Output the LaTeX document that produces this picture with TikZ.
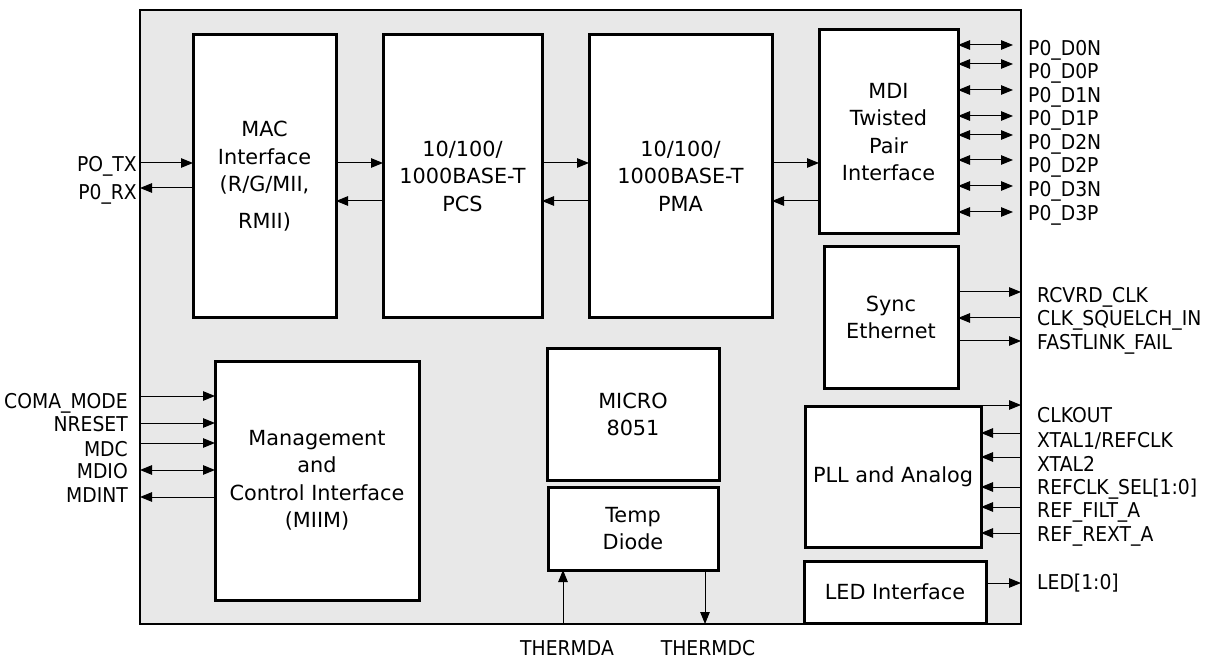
\documentclass[tikz,border=0pt]{standalone}
\usepackage{fontspec}
\setmainfont{DejaVu Sans}
\newfontfamily\lblfont[FakeStretch=0.92]{DejaVu Sans}
\usetikzlibrary{arrows.meta}
\definecolor{chipgray}{HTML}{E8E8E8}
\begin{document}
\begin{tikzpicture}[x=1pt,y=-1pt,
  chipbox/.style={draw, line width=2pt, fill=chipgray, inner sep=0pt, outer sep=0pt},
  blk/.style={draw, line width=3pt, fill=white, inner sep=0pt, outer sep=0pt, align=center,
    font=\fontsize{20.8}{27.5}\selectfont},
  arr/.style={line width=1pt, -{Triangle[length=12pt,width=9.5pt]}},
  rarr/.style={line width=1pt, {Triangle[length=12pt,width=9.5pt]}-},
  barr/.style={line width=1pt, {Triangle[length=12pt,width=9.5pt]}-{Triangle[length=12pt,width=9.5pt]}},
  lbl/.style={inner sep=0pt, font=\lblfont\fontsize{20.4}{24}\selectfont}
]
\useasboundingbox (0,0) rectangle (1213,660);
\fill[white] (0,0) rectangle (1213,660);

% chip outline
\node[chipbox, minimum width=881pt, minimum height=614pt] (chip) at (580.5,317) {};

% blocks
\node[blk, minimum width=143pt, minimum height=283pt] (mac) at (264.5,176) {MAC\\Interface\\(R/G/MII,\\[9pt]RMII)};
\node[blk, minimum width=159pt, minimum height=283pt] (pcs) at (462.5,176) {10/100/\\1000BASE-T\\PCS};
\node[blk, minimum width=183pt, minimum height=283pt] (pma) at (680.5,176) {10/100/\\1000BASE-T\\PMA};
\node[blk, minimum width=139pt, minimum height=204pt] (mdi) at (888.5,132) {MDI\\Twisted\\Pair\\Interface};
\node[blk, minimum width=134pt, minimum height=142pt] (sync) at (891,317.5) {Sync\\Ethernet};
\node[blk, minimum width=204pt, minimum height=239pt] (mgmt) at (317,480.5) {Management\\and\\Control Interface\\(MIIM)};
\node[blk, minimum width=172pt, minimum height=132pt] (micro) at (633,414.5) {MICRO\\8051};
\node[blk, minimum width=170pt, minimum height=83pt] (temp) at (633,528.5) {Temp\\Diode};
\node[blk, minimum width=176pt, minimum height=141pt] (pll) at (893,476.5) {PLL and Analog};
\node[blk, minimum width=182pt, minimum height=62pt] (led) at (895,592) {LED Interface};

% datapath connectors
\draw[arr]  (mac.east |- 0,163) -- (pcs.west |- 0,163);
\draw[rarr] (mac.east |- 0,201) -- (pcs.west |- 0,201);
\draw[arr]  (pcs.east |- 0,163) -- (pma.west |- 0,163);
\draw[rarr] (pcs.east |- 0,201) -- (pma.west |- 0,201);
\draw[arr]  (pma.east |- 0,163) -- (mdi.west |- 0,163);
\draw[rarr] (pma.east |- 0,201) -- (mdi.west |- 0,201);

% MAC pins
\draw[arr]  (chip.west |- 0,163) -- (mac.west |- 0,163);
\draw[rarr] (chip.west |- 0,188) -- (mac.west |- 0,188);
\node[lbl, anchor=base east] (ptx) at (137,171.5) {PO\_TX};
\node[lbl, anchor=base east] (prx) at (137,199.5) {P0\_RX};

% management pins
\draw[arr]  (chip.west |- 0,396) -- (mgmt.west |- 0,396);
\draw[arr]  (chip.west |- 0,423) -- (mgmt.west |- 0,423);
\draw[arr]  (chip.west |- 0,443) -- (mgmt.west |- 0,443);
\draw[barr] (chip.west |- 0,470) -- (mgmt.west |- 0,470);
\draw[rarr] (chip.west |- 0,497) -- (mgmt.west |- 0,497);
\node[lbl, anchor=base east] (lcoma) at (128,408) {COMA\_MODE};
\node[lbl, anchor=base east] (lnres) at (128,431.5) {NRESET};
\node[lbl, anchor=base east] (lmdc) at (128,456.5) {MDC};
\node[lbl, anchor=base east] (lmdio) at (128,478.5) {MDIO};
\node[lbl, anchor=base east] (lmdint) at (128,502.5) {MDINT};

% MDI pins
\coordinate (d0n) at (1013,45);
\coordinate (d0p) at (1013,64);
\coordinate (d1n) at (1013,90);
\coordinate (d1p) at (1013,116);
\coordinate (d2n) at (1013,135);
\coordinate (d2p) at (1013,160);
\coordinate (d3n) at (1013,186);
\coordinate (d3p) at (1013,212);
\foreach \c in {d0n,d0p,d1n,d1p,d2n,d2p,d3n,d3p}
  \draw[barr] (mdi.east |- \c) -- (\c);
\node[lbl, anchor=base west] (l0n) at (1028,55.5) {P0\_D0N};
\node[lbl, anchor=base west] (l0p) at (1028,79) {P0\_D0P};
\node[lbl, anchor=base west] (l1n) at (1028,102.5) {P0\_D1N};
\node[lbl, anchor=base west] (l1p) at (1028,126) {P0\_D1P};
\node[lbl, anchor=base west] (l2n) at (1028,149.5) {P0\_D2N};
\node[lbl, anchor=base west] (l2p) at (1028,173) {P0\_D2P};
\node[lbl, anchor=base west] (l3n) at (1028,196.5) {P0\_D3N};
\node[lbl, anchor=base west] (l3p) at (1028,220.5) {P0\_D3P};

% Sync Ethernet pins
\draw[arr]  (sync.east |- 0,292) -- (chip.east |- 0,292);
\draw[rarr] (sync.east |- 0,318) -- (chip.east |- 0,318);
\draw[arr]  (sync.east |- 0,341) -- (chip.east |- 0,341);
\node[lbl, anchor=base west] (lrc) at (1037,302.5) {RCVRD\_CLK};
\node[lbl, anchor=base west] (lsq) at (1037,325.5) {CLK\_SQUELCH\_IN};
\node[lbl, anchor=base west] (lfl) at (1037,349.5) {FASTLINK\_FAIL};

% PLL pins
\draw[arr]  (pll.east |- 0,405) -- (chip.east |- 0,405);
\draw[rarr] (pll.east |- 0,433) -- (chip.east |- 0,433);
\draw[rarr] (pll.east |- 0,457) -- (chip.east |- 0,457);
\draw[rarr] (pll.east |- 0,487) -- (chip.east |- 0,487);
\draw[rarr] (pll.east |- 0,507) -- (chip.east |- 0,507);
\draw[rarr] (pll.east |- 0,533) -- (chip.east |- 0,533);
\node[lbl, anchor=base west] (lck) at (1037,422.5) {CLKOUT};
\node[lbl, anchor=base west] (lx1) at (1037,447.5) {XTAL1/REFCLK};
\node[lbl, anchor=base west] (lx2) at (1037,471.5) {XTAL2};
\node[lbl, anchor=base west] (lrs) at (1037,494.5) {REFCLK\_SEL[1:0]};
\node[lbl, anchor=base west] (lrf) at (1037,517.5) {REF\_FILT\_A};
\node[lbl, anchor=base west] (lrr) at (1037,541.5) {REF\_REXT\_A};

% LED pin
\draw[arr] (led.east |- 0,583) -- (chip.east |- 0,583);
\node[lbl, anchor=base west] (lled) at (1037,589.5) {LED[1:0]};

% thermal diode pins
\draw[arr] (chip.south -| 563,0) -- (temp.south -| 563,0);
\draw[arr] (temp.south -| 705,0) -- (chip.south -| 705,0);
\node[lbl, anchor=base] (lta) at (567,655.5) {THERMDA};
\node[lbl, anchor=base] (ltc) at (708,655.5) {THERMDC};
\end{tikzpicture}
\end{document}
